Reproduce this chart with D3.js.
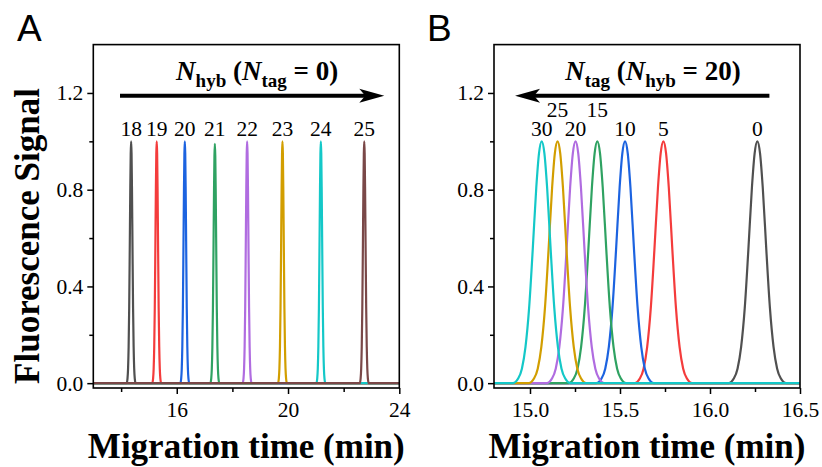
<!DOCTYPE html>
<html>
<head>
<meta charset="utf-8">
<script src="https://cdn.jsdelivr.net/npm/d3@7"></script>
<style>
  body { margin: 0; background: #fff; }
  svg { display: block; font-family: "Liberation Serif", "Times New Roman", serif; }
</style>
</head>
<body>
<svg id="chart" width="822" height="467"></svg>
<script>
// peak profile (offset in min, relative signal)
const profileOffset = [-0.16, -0.13, -0.11, -0.09, -0.07, -0.05, -0.03, -0.015, 0, 0.015, 0.03, 0.05, 0.07, 0.09, 0.11, 0.13, 0.16];
const profileValue = [0.0, 0.02, 0.06, 0.15, 0.31, 0.55, 0.81, 0.95, 1.0, 0.95, 0.81, 0.55, 0.31, 0.15, 0.06, 0.02, 0.0];

// panel A: N_hyb (N_tag = 0)
const labelsA = ["18", "19", "20", "21", "22", "23", "24", "25"];
const centersA = [14.36, 15.28, 16.29, 17.37, 18.53, 19.8, 21.18, 22.74];
const heightsA = [1, 1, 1, 0.99, 1, 1, 1, 1];
const colorsA = ["#505050", "#f43c3c", "#1c63e0", "#2fa262", "#b06ce0", "#d29e00", "#14c8c8", "#7a4848"];
const xTicksA = [16, 20, 24];
const xMinorA = [14, 18, 22];

// panel B: N_tag (N_hyb = 20)
const labelsB = ["0", "5", "10", "15", "20", "25", "30"];
const centersB = [16.263, 15.741, 15.528, 15.374, 15.253, 15.153, 15.065];
const heightsB = [1, 1, 1, 1, 1, 1, 1];
const colorsB = ["#505050", "#f43c3c", "#1c63e0", "#2fa262", "#b06ce0", "#d29e00", "#14c8c8"];
const xTicksB = [15.0, 15.5, 16.0, 16.5];
const xMinorB = [15.25, 15.75, 16.25];

const yTicks = [0, 0.4, 0.8, 1.2];
const yMinor = [0.2, 0.6, 1.0];

const svg = d3.select("#chart");
const marginTop = 44.6, innerHeight = 343.4, innerWidth = 306;

const yScale = d3.scaleLinear().domain([-0.02, 1.4]).range([innerHeight, 0]);

function buildSeries(center, h, xDomain) {
  const pts = [{ x: xDomain[0], y: 0 }];
  profileOffset.forEach((o, i) => pts.push({ x: center + o, y: profileValue[i] * h }));
  pts.push({ x: xDomain[1], y: 0 });
  return pts;
}

function drawPanel(cfg) {
  const g = svg.append("g").attr("transform", `translate(${cfg.left},${marginTop})`);
  const xScale = d3.scaleLinear().domain(cfg.xDomain).range([0, innerWidth]);

  const clipId = "clip" + cfg.name;
  g.append("clipPath").attr("id", clipId)
    .append("rect").attr("width", innerWidth).attr("height", innerHeight);

  const line = d3.line()
    .x((d) => xScale(d.x))
    .y((d) => yScale(d.y))
    .curve(d3.curveMonotoneX);

  const plot = g.append("g").attr("clip-path", `url(#${clipId})`);
  cfg.centers.forEach((c, i) => {
    plot.append("path")
      .datum(buildSeries(c, cfg.heights[i], cfg.xDomain))
      .attr("fill", "none")
      .attr("stroke", cfg.colors[i])
      .attr("stroke-width", 2.2)
      .attr("d", line);
  });

  // axes
  g.append("g").attr("transform", `translate(0,${innerHeight})`)
    .call(d3.axisBottom(xScale).tickValues(cfg.xTicks).tickFormat(cfg.xFormat).tickSize(6).tickPadding(8));
  g.append("g").attr("class", "minor").attr("transform", `translate(0,${innerHeight})`)
    .call(d3.axisBottom(xScale).tickValues(cfg.xMinor).tickFormat("").tickSize(4));
  g.append("g")
    .call(d3.axisLeft(yScale).tickValues(yTicks).tickFormat(d3.format(".1f")).tickSize(6).tickPadding(4));
  g.append("g").attr("class", "minor").call(d3.axisLeft(yScale).tickValues(yMinor).tickFormat("").tickSize(4));

  g.selectAll(".minor text").remove();
  g.selectAll(".domain").remove();
  g.selectAll(".tick line").attr("stroke", "#000").attr("stroke-width", 1.5);
  g.selectAll(".tick text")
    .attr("fill", "#000")
    .attr("font-family", "Liberation Serif, Times New Roman, serif")
    .attr("font-size", 21.5);

  g.append("rect")
    .attr("width", innerWidth).attr("height", innerHeight)
    .attr("fill", "none").attr("stroke", "#000").attr("stroke-width", 1.6);

  // peak labels
  cfg.labels.forEach((lab, i) => {
    const raised = cfg.raised && cfg.raised.includes(lab);
    g.append("text")
      .attr("x", xScale(cfg.centers[i]))
      .attr("y", yScale(1) - 5 - (raised ? 19 : 0))
      .attr("text-anchor", "middle")
      .style("font-size", "21.5px")
      .text(lab);
  });

  // arrow
  const ay = yScale(1.188);
  const x1 = xScale(cfg.arrow[0]), x2 = xScale(cfg.arrow[1]);
  const dir = x2 > x1 ? 1 : -1;
  g.append("line")
    .attr("x1", x1).attr("x2", x2 - dir * 10)
    .attr("y1", ay).attr("y2", ay)
    .attr("stroke", "#000").attr("stroke-width", 4);
  g.append("path")
    .attr("d", `M${x2},${ay} L${x2 - dir * 25},${ay - 7} L${x2 - dir * 19},${ay} L${x2 - dir * 25},${ay + 7} Z`)
    .attr("fill", "#000");

  // arrow title
  const t = g.append("text")
    .attr("x", xScale(cfg.titleX))
    .attr("y", ay - 16)
    .attr("text-anchor", "middle")
    .style("font-size", "27px")
    .style("font-weight", "bold");
  t.append("tspan").style("font-style", "italic").text("N");
  t.append("tspan").attr("dy", 7).style("font-size", "19px").text(cfg.sub1);
  t.append("tspan").attr("dy", -7).text(" (");
  t.append("tspan").style("font-style", "italic").text("N");
  t.append("tspan").attr("dy", 7).style("font-size", "19px").text(cfg.sub2);
  t.append("tspan").attr("dy", -7).text(" = " + cfg.value + ")");

  // x axis title
  g.append("text")
    .attr("x", innerWidth / 2)
    .attr("y", innerHeight + 70)
    .attr("text-anchor", "middle")
    .style("font-size", "35px")
    .style("font-weight", "bold")
    .text("Migration time (min)");

  // panel letter
  svg.append("text")
    .attr("x", cfg.letterX)
    .attr("y", 41)
    .style("font-family", '"Liberation Sans", Arial, sans-serif')
    .style("font-size", "37px")
    .text(cfg.name);
}

drawPanel({
  name: "A", left: 93.3, xDomain: [13, 24],
  xTicks: xTicksA, xMinor: xMinorA, xFormat: d3.format("d"),
  labels: labelsA, centers: centersA, heights: heightsA, colors: colorsA,
  arrow: [13.96, 23.46], titleX: 18.89, sub1: "hyb", sub2: "tag", value: "0",
  letterX: 17
});

drawPanel({
  name: "B", left: 494, xDomain: [14.8, 16.5],
  xTicks: xTicksB, xMinor: xMinorB, xFormat: d3.format(".1f"),
  labels: labelsB, centers: centersB, heights: heightsB, colors: colorsB,
  raised: ["25", "15"],
  arrow: [16.33, 14.917], titleX: 15.683, sub1: "tag", sub2: "hyb", value: "20",
  letterX: 427
});

// shared y title
svg.append("text")
  .attr("transform", "translate(39,236) rotate(-90)")
  .attr("text-anchor", "middle")
  .style("font-size", "35px")
  .style("font-weight", "bold")
  .text("Fluorescence Signal");
</script>
</body>
</html>
